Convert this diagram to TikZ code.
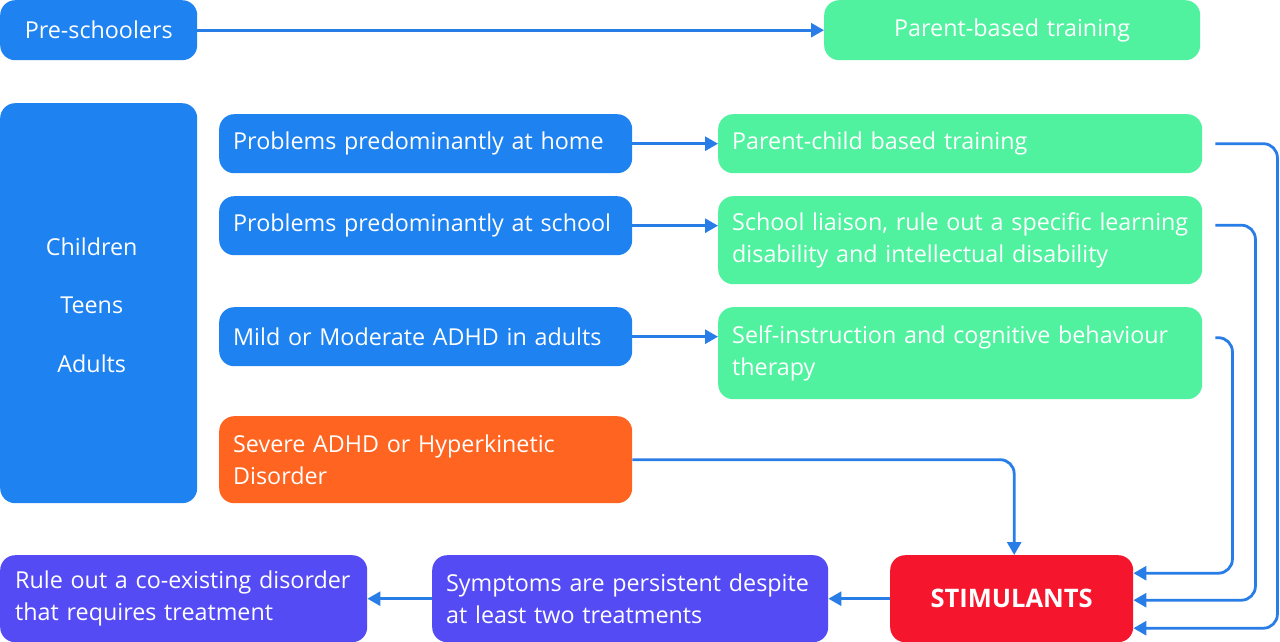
\documentclass[tikz,border=0pt]{standalone}
\usepackage{fontspec}
\setmainfont{Open Sans}
\usetikzlibrary{arrows.meta}
\definecolor{cblue}{RGB}{30,130,240}
\definecolor{cgreen}{RGB}{80,242,160}
\definecolor{corange}{RGB}{255,100,32}
\definecolor{cred}{RGB}{245,22,46}
\definecolor{cpurple}{RGB}{85,75,245}
\definecolor{carrow}{RGB}{40,125,230}
\begin{document}
\begin{tikzpicture}[x=1pt,y=-1pt,
  bx/.style={rounded corners=15pt, inner xsep=14pt, inner ysep=0pt, text=white,
    font=\fontsize{23.3}{32}\selectfont, anchor=north west, align=left},
  cbx/.style={bx, align=center},
  arr/.style={draw=carrow, line width=2.8pt, rounded corners=14pt,
    -{Triangle[length=13pt,width=14pt]}}]
\useasboundingbox (0,0) rectangle (1280,642);
% left column
\node[cbx, fill=cblue, text width=169pt, minimum height=60pt] (pre) at (0,0) {Pre-schoolers};
\node[cbx, fill=cgreen, text width=348pt, minimum height=60pt] (pbt) at (824,0) {Parent-based training};
\node[bx, fill=cblue, text width=169pt, minimum height=400pt, align=center] (cta) at (0,103) {};
\node[text=white, align=center, font=\fontsize{23.3}{58.5}\selectfont] (ctatext) at ([xshift=-7pt,yshift=-2pt]cta.center) {Children\\Teens\\Adults};
% middle column
\node[bx, fill=cblue, text width=385pt, minimum height=59pt] (home) at (219,114) {\mbox{Problems predominantly at home}};
\node[bx, fill=cblue, text width=385pt, minimum height=59pt] (school) at (219,196) {\mbox{Problems predominantly at school}};
\node[bx, fill=cblue, text width=385pt, minimum height=59pt] (mild) at (219,307) {\mbox{Mild or Moderate ADHD in adults}};
\node[bx, fill=corange, text width=385pt, minimum height=87pt] (sev) at (219,416) {\mbox{Severe ADHD or Hyperkinetic}\\\mbox{Disorder}};
% right column
\node[bx, fill=cgreen, text width=456pt, minimum height=59pt] (pct) at (718,114) {\mbox{Parent-child based training}};
\node[bx, fill=cgreen, text width=456pt, minimum height=88pt] (sl) at (718,196) {\mbox{School liaison, rule out a specific learning}\\\mbox{disability and intellectual disability}};
\node[bx, fill=cgreen, text width=456pt, minimum height=92pt] (si) at (718,307) {\mbox{Self-instruction and cognitive behaviour}\\\mbox{therapy}};
% bottom row
\node[cbx, fill=cred, text width=215pt, minimum height=87pt, font=\fontsize{25.5}{32}\selectfont\bfseries] (stim) at (890,555) {STIMULANTS};
\node[bx, fill=cpurple, text width=368pt, minimum height=87pt] (symp) at (432,555) {\mbox{Symptoms are persistent despite}\\\mbox{at least two treatments}};
\node[bx, inner xsep=15pt, fill=cpurple, text width=337pt, minimum height=87pt] (rule) at (0,555) {\mbox{Rule out a co-existing disorder}\\\mbox{that requires treatment}};
% connectors
\draw[arr] (pre.east) -- (pbt.west);
\draw[arr] (home.east) -- (pct.west);
\draw[arr] (school.east) -- (sl.west |- school.east);
\draw[arr] (mild.east) -- (si.west |- mild.east);
\draw[arr] (sev.east) -| ([xshift=2.5pt]stim.north);
\draw[arr] ([xshift=13pt]pct.east) -| ([xshift=144pt,yshift=-29.5pt]stim.east) -- ([yshift=-29.5pt]stim.east);
\draw[arr] ([xshift=13pt,yshift=15pt]sl.east) -| ([xshift=122pt,yshift=-1.5pt]stim.east) -- ([yshift=-1.5pt]stim.east);
\draw[arr] ([xshift=13pt,yshift=15.5pt]si.east) -| ([xshift=99pt,yshift=25.5pt]stim.east) -- ([yshift=25.5pt]stim.east);
\draw[arr] (stim.west) -- (symp.east);
\draw[arr] (symp.west) -- (rule.east);
\end{tikzpicture}
\end{document}
